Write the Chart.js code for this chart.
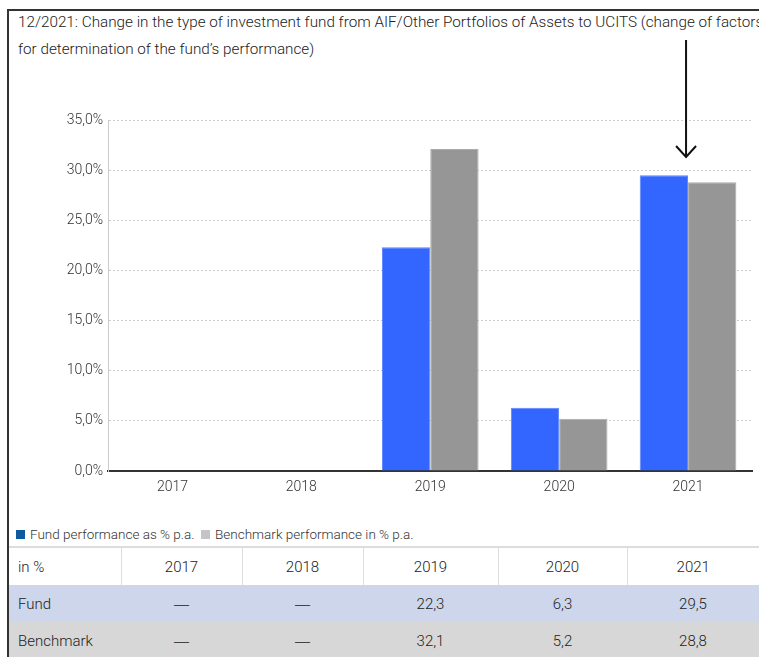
<!DOCTYPE html>
<html>
<head>
<meta charset="utf-8">
<script src="https://cdn.jsdelivr.net/npm/chart.js@4"></script>
<style>
  html, body { margin:0; padding:0; background:#fff; width:759px; height:657px; overflow:hidden; }
  body { font-family: Roboto, "Liberation Sans", sans-serif; color:#222; position:relative; }
  #frame { position:absolute; left:7px; top:9px; width:800px; height:700px; border-left:2px solid #333; border-top:2px solid #333; box-sizing:border-box; }
  #title { position:absolute; left:18px; top:9px; font-size:15.25px; font-weight:300; line-height:27px; white-space:nowrap; color:#222; }
  #wrap { position:absolute; left:9px; top:36px; width:750px; height:480px; }
  #legend { position:absolute; left:16px; top:526px; font-size:13.5px; font-weight:300; color:#333; white-space:nowrap; }
  #legend .sw { display:inline-block; width:9px; height:9px; vertical-align:0px; margin-right:5px; }
  #tbl { position:absolute; left:9px; top:546px; border-collapse:collapse; font-size:15px; font-weight:300; color:#222; table-layout:fixed; }
  #tbl td { height:37px; padding:0; text-align:center; }
  #tbl td:first-child { text-align:left; padding-left:9px; }
  #tbl tr.head td { border-top:2px solid #ddd; border-left:1px solid #ddd; background:#fff; }
  #tbl tr.head td:first-child { border-left:none; }
  #tbl tr.fund td { background:#cdd6ea; }
  #tbl tr.bench td { background:#d7d7d7; }
  #tbl .dash { font-family: "Liberation Sans", sans-serif; font-weight:400; color:#444; }
</style>
</head>
<body>
<div id="frame"></div>
<div id="title">12/2021: Change in the type of investment fund from AIF/Other Portfolios of Assets to UCITS (change of factors<br>for determination of the fund’s performance)</div>
<div id="wrap"><canvas id="c" width="750" height="480"></canvas></div>
<div id="legend"><span class="sw" style="background:#0d5a9e"></span>Fund performance as % p.a.&nbsp;&nbsp;<span class="sw" style="background:#c4c4c4"></span>Benchmark performance in % p.a.</div>
<table id="tbl"></table>
<script>
const categories = ['2017', '2018', '2019', '2020', '2021'];
const fundValues = [null, null, 22.3, 6.3, 29.5];
const benchmarkValues = [null, null, 32.1, 5.2, 28.8];
const seriesNames = ['Fund performance as % p.a.', 'Benchmark performance in % p.a.'];
const rowLabels = ['Fund', 'Benchmark'];
const yTicks = [0, 5, 10, 15, 20, 25, 30, 35];
const arrowCategory = '2021';

const fmt = v => v === null ? '<span class="dash">—</span>' : v.toFixed(1).replace('.', ',');

// table
const tbl = document.getElementById('tbl');
const colW = [112, 121, 121, 135, 129, 132];
let html = '<colgroup>' + colW.map(w => `<col style="width:${w}px">`).join('') + '</colgroup>';
html += '<tr class="head"><td>in %</td>' + categories.map(c => `<td>${c}</td>`).join('') + '</tr>';
html += '<tr class="fund"><td>' + rowLabels[0] + '</td>' + fundValues.map(v => `<td>${fmt(v)}</td>`).join('') + '</tr>';
html += '<tr class="bench"><td>' + rowLabels[1] + '</td>' + benchmarkValues.map(v => `<td>${fmt(v)}</td>`).join('') + '</tr>';
tbl.innerHTML = html;

const arrowPlugin = {
  id: 'arrow',
  afterDraw(chart) {
    const ctx = chart.ctx;
    const x = chart.scales.x.getPixelForValue(categories.indexOf(arrowCategory)) - 2;
    const y0 = 4, y1 = 121;
    ctx.save();
    ctx.strokeStyle = '#111';
    ctx.lineWidth = 2;
    ctx.beginPath();
    ctx.moveTo(x, y0); ctx.lineTo(x, y1);
    ctx.moveTo(x - 10, y1 - 11); ctx.lineTo(x, y1); ctx.lineTo(x + 10, y1 - 11);
    ctx.stroke();
    ctx.restore();
  }
};

const tickFont = { family: 'Roboto, "Liberation Sans", sans-serif', size: 14, weight: 300 };

new Chart(document.getElementById('c'), {
  type: 'bar',
  data: {
    labels: categories,
    datasets: [
      { label: seriesNames[0], data: fundValues, backgroundColor: '#3366ff', borderColor: '#5b84ff', borderWidth: 1, categoryPercentage: 0.75, barPercentage: 1.0 },
      { label: seriesNames[1], data: benchmarkValues, backgroundColor: '#969696', borderColor: '#ababab', borderWidth: 1, categoryPercentage: 0.75, barPercentage: 1.0 }
    ]
  },
  options: {
    responsive: false,
    animation: false,
    events: [],
    layout: { padding: { top: 84, right: 6.5, bottom: 15, left: 0 } },
    plugins: { legend: { display: false }, tooltip: { enabled: false }, title: { display: false } },
    scales: {
      x: {
        grid: { display: false, drawTicks: false },
        border: { display: true, color: '#333', width: 2 },
        ticks: { color: '#333', font: tickFont, padding: 8 },
        afterFit: s => { s.height = 30; }
      },
      y: {
        min: 0, max: 35,
        afterBuildTicks: s => { s.ticks = yTicks.map(v => ({ value: v })); },
        grid: { color: '#cccccc', lineWidth: 1, drawTicks: false },
        border: { display: true, color: '#cccccc', dash: [2, 2] },
        ticks: { color: '#333', font: tickFont, padding: 5,
                 callback: v => v.toFixed(1).replace('.', ',') + '%' },
        afterFit: s => { s.width = 99; }
      }
    }
  },
  plugins: [arrowPlugin]
});
</script>
</body>
</html>
